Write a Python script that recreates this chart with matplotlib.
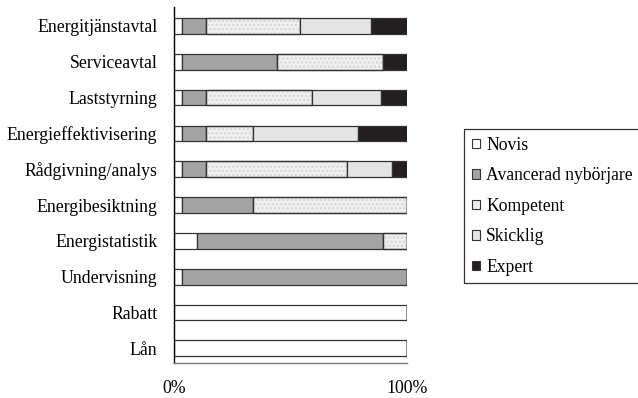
import matplotlib
matplotlib.use("Agg")
import matplotlib.pyplot as plt
from matplotlib.patches import Patch
import numpy as np

plt.rcParams['font.family'] = ['Liberation Serif', 'DejaVu Serif']

categories = ["Energitjänstavtal", "Serviceavtal", "Laststyrning", "Energieffektivisering",
              "Rådgivning/analys", "Energibesiktning", "Energistatistik", "Undervisning",
              "Rabatt", "Lån"]
series_names = ["Novis", "Avancerad nybörjare", "Kompetent", "Skicklig", "Expert"]
novis      = [3.6, 3.6, 3.6, 3.6, 3.6, 3.6, 10.0, 3.6, 100, 100]
avancerad  = [10.1, 40.5, 10.1, 10.1, 10.1, 30.3, 79.7, 96.4, 0, 0]
kompetent  = [40.3, 45.6, 45.4, 20.2, 60.4, 66.1, 10.3, 0, 0, 0]
skicklig   = [30.3, 0, 29.7, 44.8, 19.3, 0, 0, 0, 0, 0]
expert     = [15.7, 10.3, 11.2, 21.3, 6.6, 0, 0, 0, 0, 0]
xtick_vals = [0, 100]
xtick_labels = ["0%", "100%"]

colors = ["#ffffff", "#a3a3a3", "#efefef", "#e4e4e4", "#231f20"]
data = [novis, avancerad, kompetent, skicklig, expert]

fig = plt.figure(figsize=(6.38, 3.98), dpi=100)
ax = fig.add_axes([174/638, 1-363/398, (407.3-174)/638, (363-7)/398])

y = np.arange(len(categories))
left = np.zeros(len(categories))
for vals, col, name in zip(data, colors, series_names):
    vals = np.array(vals, dtype=float)
    ax.barh(y, vals, left=left, height=0.44, color=col, edgecolor="#333333",
            linewidth=0.9, label=name)
    if name == "Kompetent":
        ax.barh(y, vals, left=left, height=0.44, color="none", edgecolor="#d2d2d2",
                linewidth=0, hatch="....")
        ax.barh(y, vals, left=left, height=0.44, color="none", edgecolor="#333333",
                linewidth=0.9)
    left += vals

ax.set_xlim(0, 100)
ax.set_ylim(9.41, -0.53)
ax.set_yticks(y)
ax.set_yticklabels(categories, fontsize=12.8)
ax.set_xticks(xtick_vals)
ax.set_xticklabels(xtick_labels, fontsize=12.8)
ax.tick_params(axis='y', length=0, pad=12)
ax.tick_params(axis='x', length=0, pad=12)
for s in ["top", "right"]:
    ax.spines[s].set_visible(False)
ax.spines["left"].set_color("black")
ax.spines["left"].set_linewidth(1.0)
ax.spines["bottom"].set_color("#7a7a7a")
ax.spines["bottom"].set_linewidth(1.0)

handles = [Patch(facecolor=c, edgecolor="#333333", linewidth=0.8) for c in colors]
leg = fig.legend(handles, series_names, loc="upper left",
                 bbox_to_anchor=(464/638, 1-129/398), fontsize=12.7,
                 frameon=True, fancybox=False, edgecolor="black",
                 handlelength=0.45, handleheight=0.45, handletextpad=0.35,
                 labelspacing=0.76, borderpad=0.45, borderaxespad=0)
leg.get_frame().set_linewidth(0.9)

fig.savefig("out.png", dpi=100)
